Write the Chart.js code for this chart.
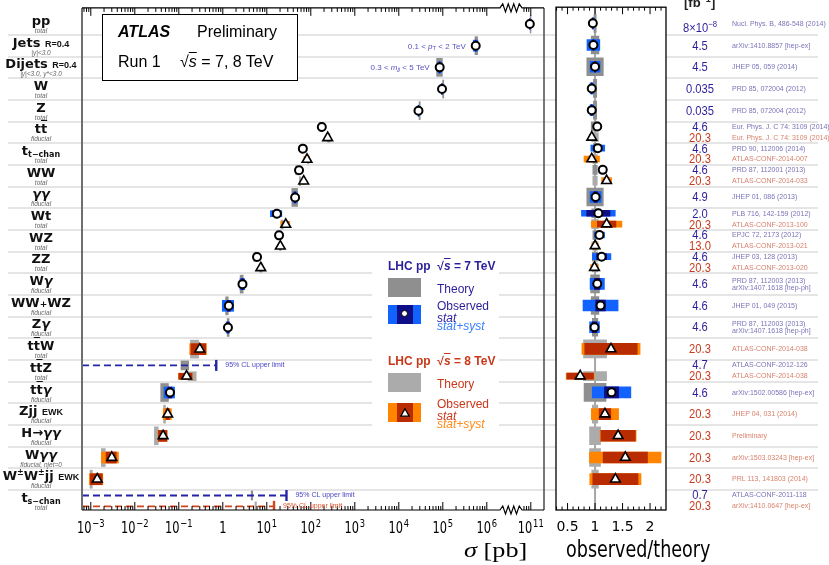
<!DOCTYPE html>
<html><head><meta charset="utf-8">
<script src="https://cdn.jsdelivr.net/npm/chart.js@4.4.1/dist/chart.umd.min.js"></script>
<style>
html,body{margin:0;padding:0;background:#fff;}
body{width:829px;height:565px;position:relative;overflow:hidden;font-family:'Liberation Sans',Arial,sans-serif;}
canvas{position:absolute;left:0;top:0;}
#main{z-index:1}
#ratio{z-index:2}
#overlay{position:absolute;left:0;top:0;width:829px;height:565px;z-index:3;pointer-events:none}
.a{position:absolute;white-space:nowrap}
.pname{font-family:'DejaVu Sans',sans-serif;font-weight:bold;font-size:13px;line-height:14px;text-align:center;width:82px;left:0;color:#111}
.pname small{font-family:'Liberation Sans',sans-serif;font-size:9px}
.pname .pl{font-size:9px}
.pname sub{font-size:8px;vertical-align:-2px;line-height:0}
.pname sup{font-size:8px;vertical-align:5px;line-height:0}
.ov{text-decoration:overline}
.psub{font-size:6.5px;line-height:8px;font-style:italic;color:#666;text-align:center;width:82px;left:0}
.lumi{font-size:13px;line-height:14px;width:80px;left:660px;text-align:center;transform:scaleX(0.86);transform-origin:50% 50%}
.ref{font-size:7px;line-height:8px;left:732px}
.leg{font-size:12px;line-height:14px}
</style></head>
<body>
<canvas id="main" width="829" height="565"></canvas>
<canvas id="ratio" width="829" height="565"></canvas>
<div id="overlay"></div>
<script>
const N = null;
// ---- categories (rows, top to bottom) ----
const processNames = ['pp','Jets <small>R=0.4</small>','Dijets <small>R=0.4</small>','W','Z',
  't<span class="ov">t</span>','t<sub>t−chan</sub>','WW','<i>γγ</i>','Wt','WZ','ZZ','W<i>γ</i>','WW<span class="pl">+</span>WZ','Z<i>γ</i>',
  't<span class="ov">t</span>W','t<span class="ov">t</span>Z','t<span class="ov">t</span><i>γ</i>','Zjj <small>EWK</small>',
  'H→<i>γγ</i>','W<i>γγ</i>','W<sup>±</sup>W<sup>±</sup>jj <small>EWK</small>','t<sub>s−chan</sub>'];
const processSubs = ['total','|y|&lt;3.0','|y|&lt;3.0, y*&lt;3.0','total','total','fiducial','total','total','fiducial','total','total','total',
  'fiducial','fiducial','fiducial','total','total','fiducial','fiducial','fiducial','fiducial, njet=0','fiducial','total'];

// ---- 7 TeV: measured cross sections [pb], observed/theory, relative uncertainties ----
const sigma7   = [9.5e10, 5.6e5, 8.5e4, 9.6e4, 2.8e4, 178, 66, 54, 44, 17, 19, 6.0, 2.8, 1.37, 1.31, N, N, 0.063, N, N, N, N, N];
const ratio7   = [0.96, 0.97, 1.00, 0.94, 0.94, 1.04, 1.05, 1.14, 1.01, 1.06, 1.08, 1.12, 1.04, 1.10, 0.99, N, N, 1.30, N, N, N, N, N];
const statErr7 = [0.005, 0.01, 0.01, 0.005, 0.005, 0.02, 0.03, 0.03, 0.03, 0.20, 0.05, 0.08, 0.05, 0.08, 0.04, N, N, 0.10, N, N, N, N, N];
const totErr7  = [0.015, 0.12, 0.09, 0.03, 0.03, 0.05, 0.12, 0.06, 0.10, 0.29, 0.085, 0.15, 0.125, 0.29, 0.09, N, N, 0.27, N, N, N, N, N];
const theoErr7 = [0.02, 0.07, 0.15, 0.03, 0.03, 0.07, 0.03, 0.04, 0.15, 0.06, 0.04, 0.05, 0.08, 0.07, 0.05, N, 0.20, 0.20, N, N, N, N, 0.04];
const limit7       = [N,N,N,N,N,N,N,N,N,N,N,N,N,N,N,N, 0.71, N,N,N,N,N, 28];
const limitTheory7 = [N,N,N,N,N,N,N,N,N,N,N,N,N,N,N,N, 0.14, N,N,N,N,N, 4.6];

// ---- 8 TeV ----
const sigma8   = [N,N,N,N,N, 242, 82, 69, N, 27, 20.3, 7.3, N,N,N, 0.30, 0.15, N, 0.056, 0.044, 0.0030, 0.0014, N];
const ratio8   = [N,N,N,N,N, 0.94, 0.94, 1.21, N, 1.21, 1.00, 0.99, N,N,N, 1.29, 0.73, N, 1.18, 1.42, 1.55, 1.37, N];
const statErr8 = [N,N,N,N,N, 0.01, 0.05, 0.03, N, 0.14, 0.03, 0.04, N,N,N, 0.37, 0.33, N, 0.09, 0.22, 0.26, 0.30, N];
const totErr8  = [N,N,N,N,N, 0.04, 0.15, 0.075, N, 0.23, 0.06, 0.07, N,N,N, 0.41, 0.35, N, 0.21, 0.23, 0.42, 0.34, N];
const theoErr8 = [N,N,N,N,N, 0.06, 0.04, 0.04, N, 0.06, 0.04, 0.05, N,N,N, 0.21, 0.21, N, 0.05, 0.10, 0.10, 0.06, 0.04];
const limit8       = [N,N,N,N,N,N,N,N,N,N,N,N,N,N,N,N,N,N,N,N,N,N, 14.6];
const limitTheory8 = [N,N,N,N,N,N,N,N,N,N,N,N,N,N,N,N,N,N,N,N,N,N, 5.6];

// ---- luminosity [fb^-1] and references ----
const lumi7 = ['8×10<sup style="font-size:9px">−8</sup>','4.5','4.5','0.035','0.035','4.6','4.6','4.6','4.9','2.0','4.6','4.6','4.6','4.6','4.6',N,'4.7','4.6',N,N,N,N,'0.7'];
const lumi8 = [N,N,N,N,N,'20.3','20.3','20.3',N,'20.3','13.0','20.3',N,N,N,'20.3','20.3',N,'20.3','20.3','20.3','20.3','20.3'];
const ref7 = ['Nucl. Phys. B, 486-548 (2014)','arXiv:1410.8857 [hep-ex]','JHEP 05, 059 (2014)','PRD 85, 072004 (2012)','PRD 85, 072004 (2012)',
  'Eur. Phys. J. C 74: 3109 (2014)','PRD 90, 112006 (2014)','PRD 87, 112001 (2013)','JHEP 01, 086 (2013)','PLB 716, 142-159 (2012)',
  'EPJC 72, 2173 (2012)','JHEP 03, 128 (2013)','PRD 87, 112003 (2013)<br>arXiv:1407.1618 [hep-ph]','JHEP 01, 049 (2015)',
  'PRD 87, 112003 (2013)<br>arXiv:1407.1618 [hep-ph]',N,'ATLAS-CONF-2012-126','arXiv:1502.00586 [hep-ex]',N,N,N,N,'ATLAS-CONF-2011-118'];
const ref8 = [N,N,N,N,N,'Eur. Phys. J. C 74: 3109 (2014)','ATLAS-CONF-2014-007','ATLAS-CONF-2014-033',N,'ATLAS-CONF-2013-100',
  'ATLAS-CONF-2013-021','ATLAS-CONF-2013-020',N,N,N,'ATLAS-CONF-2014-038','ATLAS-CONF-2014-038',N,'JHEP 04, 031 (2014)','Preliminary',
  'arXiv:1503.03243 [hep-ex]','PRL 113, 141803 (2014)','arXiv:1410.0647 [hep-ex]'];

// ---- tick labels ----
const mainTickExponents = [-3,-2,-1,0,1,2,3,4,5,6,11];
const mainTickBases     = ['10','10','10','1','10','10','10','10','10','10','10'];
const mainTickSups      = ['−3','−2','−1','','1','2','3','4','5','6','11'];
const ratioTickValues = [0.5,1,1.5,2];
const ratioTickLabels = ['0.5','1','1.5','2'];

// ---- axis geometry ----
const X_MIN = -3.2, X_MAX = 7.3, BREAK_LO = 6.3, BREAK_HI = 6.8;
const Y_MIN = -0.743, Y_MAX = 22.42;
const R_MIN = 0.29, R_MAX = 2.29;

// log axis with a break between 10^6 and 10^10
function toU(v){ const l = Math.log10(v); return l > 6.5 ? l - 4 : l; }
function isDouble(i){ return (sigma7[i]!=null||limit7[i]!=null) && (sigma8[i]!=null||limit8[i]!=null); }
function rowY(i,e){ return isDouble(i) ? i + (e===7 ? -0.25 : 0.25) : i; }

const C7 = '#2b1e9c', C8 = '#c9381a';
const E = {
  7:{sigma:sigma7, ratio:ratio7, stat:statErr7, tot:totErr7, theo:theoErr7, limit:limit7, limTh:limitTheory7,
     cTheo:'#8f8f8f', cTot:'#1262ff', cStat:'#0e0e86', marker:'circle', r:4, bw:2, cLine:'#2424a8', cTxt:'#4a44c4'},
  8:{sigma:sigma8, ratio:ratio8, stat:statErr8, tot:totErr8, theo:theoErr8, limit:limit8, limTh:limitTheory8,
     cTheo:'#ababab', cTot:'#ff8400', cStat:'#b92c02', marker:'triangle', r:5.6, bw:1.6, cLine:'#d2441c', cTxt:'#d9552e'}
};

Chart.defaults.font.family = "'Liberation Sans', Arial, sans-serif";

function bandSets(panel){
  const sets = [];
  const thick = {theo:{s:18,d:9}, tot:{s:11,d:6}, stat:{s:11,d:6}};
  const ord = {theo:30, tot:20, stat:10};
  for (const e of [7,8]){
    const d = E[e];
    const g = {theo:{s:[],d:[]}, tot:{s:[],d:[]}, stat:{s:[],d:[]}};
    for (let i=0;i<processNames.length;i++){
      const k = isDouble(i) ? 'd' : 's';
      const y = rowY(i,e);
      if (d.sigma[i]!=null){
        const r = d.ratio[i], sg = d.sigma[i];
        if (panel==='main'){
          const th = sg/r;
          g.theo[k].push({y, x:[toU(th*(1-d.theo[i])), toU(th*(1+d.theo[i]))]});
          g.tot[k].push({y, x:[toU(sg*(1-d.tot[i])), toU(sg*(1+d.tot[i]))]});
          g.stat[k].push({y, x:[toU(sg*(1-d.stat[i])), toU(sg*(1+d.stat[i]))]});
        } else {
          g.theo[k].push({y, x:[1-d.theo[i], 1+d.theo[i]]});
          g.tot[k].push({y, x:[r*(1-d.tot[i]), r*(1+d.tot[i])]});
          g.stat[k].push({y, x:[r*(1-d.stat[i]), r*(1+d.stat[i])]});
        }
      } else if (d.limit[i]!=null && panel==='main'){
        const th = d.limTh[i];
        g.theo[k].push({y, x:[toU(th*(1-d.theo[i])), toU(th*(1+d.theo[i]))]});
      }
    }
    const col = {theo:d.cTheo, tot:d.cTot, stat:d.cStat};
    for (const kind of ['theo','tot','stat']) for (const k of ['s','d']){
      if (!g[kind][k].length) continue;
      sets.push({type:'bar', label:e+' '+kind+' '+k, data:g[kind][k], backgroundColor:col[kind],
        borderWidth:0, barThickness:thick[kind][k], stack:'all', order:ord[kind]});
    }
  }
  return sets;
}
function markerSets(panel){
  const sets = [];
  for (const e of [7,8]){
    const d = E[e]; const data = [];
    for (let i=0;i<processNames.length;i++){
      if (d.sigma[i]==null) continue;
      data.push({x: panel==='main' ? toU(d.sigma[i]) : d.ratio[i], y: rowY(i,e)});
    }
    sets.push({type:'scatter', label:e+' obs', data, pointStyle:d.marker, pointRadius:d.r, pointBorderWidth:d.bw,
      pointBorderColor:'#000', pointBackgroundColor:'#fff', order:0});
  }
  return sets;
}
function limitSets(){
  const sets = [];
  for (const e of [7,8]){
    const d = E[e];
    for (let i=0;i<processNames.length;i++){
      if (d.limit[i]==null) continue;
      const y = rowY(i,e);
      sets.push({type:'line', label:e+' limit', data:[{x:X_MIN, y}, {x:toU(d.limit[i]), y}], borderColor:d.cLine,
        borderWidth:1.8, borderDash:[7,4], pointRadius:[0,5.5], pointStyle:'line', pointRotation:90,
        pointBorderWidth:2.4, pointBorderColor:d.cLine, fill:false, order:5});
    }
  }
  return sets;
}

function drawParts(ctx, endX, y, parts){
  let w = 0;
  for (const p of parts){ ctx.font = p[1]; w += ctx.measureText(p[0]).width; }
  let x = endX - w;
  ctx.textAlign = 'left'; ctx.textBaseline = 'middle';
  for (const p of parts){ ctx.font = p[1]; ctx.fillText(p[0], x, y + (p[2]||0)); x += ctx.measureText(p[0]).width; }
}

const mainDecor = {
  id:'mainDecor',
  beforeDatasetsDraw(chart){
    const {ctx, scales:{y}} = chart;
    ctx.save(); ctx.strokeStyle = '#dcdcdc'; ctx.lineWidth = 1.6;
    for (let i=0;i<processNames.length-1;i++){
      const py = Math.round(y.getPixelForValue(i+0.5));
      ctx.beginPath(); ctx.moveTo(8,py); ctx.lineTo(818,py); ctx.stroke();
    }
    ctx.restore();
  },
  afterDraw(chart){
    const {ctx, chartArea:{left,right,top,bottom}, scales:{x,y}} = chart;
    ctx.save();
    ctx.strokeStyle = '#6e6e6e'; ctx.lineWidth = 2;
    ctx.beginPath(); ctx.moveTo(left,top); ctx.lineTo(left,bottom); ctx.stroke();
    ctx.strokeStyle = '#4a4a4a'; ctx.lineWidth = 1.5;
    ctx.beginPath(); ctx.moveTo(right,top); ctx.lineTo(right,bottom); ctx.stroke();
    const za = x.getPixelForValue(BREAK_LO), zb = x.getPixelForValue(BREAK_HI);
    ctx.strokeStyle = '#000'; ctx.lineWidth = 1.2;
    for (const py of [top,bottom]){
      ctx.beginPath(); ctx.moveTo(left,py); ctx.lineTo(za,py);
      const n = 8;
      for (let k=1;k<n;k++) ctx.lineTo(za+(zb-za)*k/n, py + (k%2 ? -4 : 4));
      ctx.lineTo(zb,py); ctx.lineTo(right,py); ctx.stroke();
    }
    // ticks
    const majors = mainTickExponents.map(e=>toU(Math.pow(10,e)));
    const minors = [];
    for (let n=-4;n<=6;n++) for (let k=2;k<=9;k++){ const u=n+Math.log10(k); if (u>X_MIN && u<BREAK_LO) minors.push(u); }
    for (let k=2;k<=9;k++){ const u=toU(k*1e10); if (u>BREAK_HI && u<X_MAX) minors.push(u); }
    ctx.lineWidth = 1;
    const tick = (u,len)=>{ const px = x.getPixelForValue(u);
      ctx.beginPath(); ctx.moveTo(px,bottom); ctx.lineTo(px,bottom-len); ctx.moveTo(px,top); ctx.lineTo(px,top+len); ctx.stroke(); };
    majors.forEach(u=>tick(u,8)); minors.forEach(u=>tick(u,4));
    // tick labels: 10^n with real superscripts, placed from the scale
    ctx.fillStyle = '#000'; ctx.textAlign = 'left'; ctx.textBaseline = 'alphabetic';
    const sx = 0.76, fb = "15px 'DejaVu Sans'", fe = "11px 'DejaVu Sans'";
    mainTickExponents.forEach((e,idx)=>{
      const px = x.getPixelForValue(toU(Math.pow(10,e)));
      ctx.font = fb; const wb = ctx.measureText(mainTickBases[idx]).width;
      ctx.font = fe; const we = mainTickSups[idx] ? ctx.measureText(mainTickSups[idx]).width + 1 : 0;
      const x0 = px - (wb+we)*sx/2;
      ctx.save(); ctx.translate(x0, bottom+23); ctx.scale(sx,1);
      ctx.font = fb; ctx.fillText(mainTickBases[idx], 0, 0);
      if (we){ ctx.font = fe; ctx.fillText(mainTickSups[idx], wb+1, -6); }
      ctx.restore();
    });
    // annotations
    ctx.fillStyle = '#5a52c2';
    drawParts(ctx, x.getPixelForValue(toU(sigma7[1]))-10, y.getPixelForValue(1)+1,
      [['0.1 < ','8px Liberation Sans'],['p','italic 8px Liberation Sans'],['T','6px Liberation Sans',2],[' < 2 TeV','8px Liberation Sans']]);
    drawParts(ctx, x.getPixelForValue(toU(sigma7[2]))-10, y.getPixelForValue(2),
      [['0.3 < ','8px Liberation Sans'],['m','italic 8px Liberation Sans'],['jj','italic 6px Liberation Sans',2],[' < 5 TeV','8px Liberation Sans']]);
    for (const e of [7,8]){
      const d = E[e];
      for (let i=0;i<processNames.length;i++){
        if (d.limit[i]==null) continue;
        ctx.fillStyle = d.cTxt; ctx.font = '7px Liberation Sans'; ctx.textAlign='left'; ctx.textBaseline='middle';
        ctx.fillText('95% CL upper limit', x.getPixelForValue(toU(d.limit[i]))+9, y.getPixelForValue(rowY(i,e)));
      }
    }
    ctx.restore();
  }
};

const ratioDecor = {
  id:'ratioDecor',
  beforeDraw(chart){
    const {ctx, chartArea:{left,right,top,bottom}} = chart;
    ctx.save(); ctx.fillStyle = '#fff'; ctx.fillRect(left,top,right-left,bottom-top); ctx.restore();
  },
  beforeDatasetsDraw(chart){
    const {ctx, chartArea:{top,bottom}, scales:{x}} = chart;
    const px = x.getPixelForValue(1);
    ctx.save(); ctx.strokeStyle = '#a6a6a6'; ctx.lineWidth = 2;
    ctx.beginPath(); ctx.moveTo(px,top); ctx.lineTo(px,bottom); ctx.stroke(); ctx.restore();
  },
  afterDraw(chart){
    const {ctx, chartArea:{left,right,top,bottom}, scales:{x}} = chart;
    ctx.save(); ctx.strokeStyle = '#000'; ctx.lineWidth = 1.3;
    ctx.strokeRect(left,top,right-left,bottom-top);
    ctx.lineWidth = 1;
    for (let k=Math.ceil(R_MIN*10);k<=Math.floor(R_MAX*10);k++){
      const v = k/10, px = x.getPixelForValue(v), len = (k%5===0) ? 7 : 3.5;
      ctx.beginPath(); ctx.moveTo(px,bottom); ctx.lineTo(px,bottom-len); ctx.moveTo(px,top); ctx.lineTo(px,top+len); ctx.stroke();
    }
    ctx.restore();
  }
};

const baseY = {type:'linear', min:Y_MIN, max:Y_MAX, reverse:true, display:false, offset:false};

const mainChart = new Chart(document.getElementById('main'), {
  type:'bar',
  data:{datasets:[...bandSets('main'), ...limitSets(), ...markerSets('main')]},
  options:{
    responsive:false, animation:false, indexAxis:'y',
    layout:{padding:{left:82,right:285,top:5,bottom:0}},
    plugins:{legend:{display:false}, tooltip:{enabled:false}},
    scales:{
      x:{type:'linear', min:X_MIN, max:X_MAX, stacked:false, offset:false,
         grid:{display:false, drawTicks:false, tickLength:0}, border:{display:false},
         afterBuildTicks:s=>{ s.ticks = mainTickExponents.map(e=>({value:toU(Math.pow(10,e))})); },
         ticks:{display:false, autoSkip:false},
         afterFit:s=>{ s.height = 55; }},
      y:baseY
    }
  },
  plugins:[mainDecor]
});

const ratioChart = new Chart(document.getElementById('ratio'), {
  type:'bar',
  data:{datasets:[...bandSets('ratio'), ...markerSets('ratio')]},
  options:{
    responsive:false, animation:false, indexAxis:'y',
    layout:{padding:{left:556,right:163,top:5,bottom:0}},
    plugins:{legend:{display:false}, tooltip:{enabled:false}},
    scales:{
      x:{type:'linear', min:R_MIN, max:R_MAX, stacked:false, offset:false,
         grid:{display:false, drawTicks:false, tickLength:0}, border:{display:false},
         afterBuildTicks:s=>{ s.ticks = ratioTickValues.map(v=>({value:v})); },
         ticks:{autoSkip:false, maxRotation:0, minRotation:0, padding:9, color:'#000',
                font:{family:"'DejaVu Sans', sans-serif", size:14}, callback:(v,idx)=>ratioTickLabels[idx]},
         afterFit:s=>{ s.height = 55; }},
      y:Object.assign({}, baseY)
    }
  },
  plugins:[ratioDecor]
});

// ---- text overlays ----
const ov = document.getElementById('overlay');
function add(html, cls, style){ const d = document.createElement('div'); d.className = 'a ' + (cls||''); d.innerHTML = html; Object.assign(d.style, style||{}); ov.appendChild(d); return d; }
const yS = mainChart.scales.y;
processNames.forEach((nm,i)=>{
  const c = yS.getPixelForValue(i);
  add(nm,'pname',{top:(c-10)+'px'});
  add(processSubs[i],'psub',{top:(c+3)+'px'});
});
for (let i=0;i<processNames.length;i++){
  const dbl = lumi7[i]!=null && lumi8[i]!=null;
  const put = (lum, ref, off, col, rcol)=>{
    const c = yS.getPixelForValue(i+off);
    add(lum,'lumi',{top:(c-7)+'px', color:col});
    if (ref){
      if (ref.indexOf('<br>')>=0) add(ref,'ref',{top:(c-7)+'px', lineHeight:'7px', color:rcol});
      else add(ref,'ref',{top:(c-4)+'px', color:rcol});
    }
  };
  if (lumi7[i]!=null) put(lumi7[i], ref7[i], dbl ? -0.25 : 0, C7, '#7a74b8');
  if (lumi8[i]!=null) put(lumi8[i], ref8[i], dbl ? 0.25 : 0, C8, '#d9806b');
}
add('[fb<sup style="font-size:9px">−1</sup>]','',{left:'684px', top:'-6px', fontSize:'13px', fontWeight:'bold', color:'#222'});
add('Reference','',{left:'754px', top:'-10px', fontSize:'11px', color:'#666'});
add('<i>σ</i> [pb]','',{left:'464px', top:'538px', fontFamily:"'Liberation Serif', serif", fontSize:'21px', transform:'scaleX(1.25)', transformOrigin:'0 50%'});
add('observed/theory','',{left:'566px', top:'536px', fontFamily:"'DejaVu Sans', sans-serif", fontSize:'22.5px', transform:'scaleX(0.78)', transformOrigin:'0 50%'});

// ATLAS box
add('','',{left:'102px', top:'14px', width:'196px', height:'67px', border:'1.5px solid #000', background:'#fff', boxSizing:'border-box'});
add('<b><i>ATLAS</i></b>','',{left:'118px', top:'23px', fontSize:'16px'});
add('Preliminary','',{left:'197px', top:'23px', fontSize:'16px'});
add('Run 1','',{left:'118px', top:'53px', fontSize:'16px'});
add('√<span class="ov"><i>s</i></span> = 7, 8 TeV','',{left:'180px', top:'53px', fontSize:'16px'});

// legend
add('','',{left:'372px', top:'256px', width:'127px', height:'184px', background:'#fff'});
function legendBlock(e, y0, title){
  const d = E[e], col = e===7 ? C7 : C8, light = e===7 ? '#3a80ff' : '#ff8c1a';
  add(title,'leg',{left:'388px', top:(y0)+'px', fontWeight:'bold', color:col});
  add('','',{left:'388px', top:(y0+19)+'px', width:'33px', height:'19px', background:d.cTheo});
  add('Theory','leg',{left:'437px', top:(y0+23)+'px', color:col});
  const oy = y0 + (e===7 ? 46 : 49);
  add('','',{left:'388px', top:oy+'px', width:'33px', height:'19px', background:d.cTot});
  add('','',{left:'397px', top:oy+'px', width:'16px', height:'19px', background:d.cStat});
  if (e===7) add('','',{left:'401px', top:(oy+5)+'px', width:'5px', height:'5px', border:'1.5px solid #000', borderRadius:'50%', background:'#fff'});
  else add('<svg width="10" height="9"><polygon points="5,0.8 9.2,8.2 0.8,8.2" fill="#fff" stroke="#000" stroke-width="1.3"/></svg>','',{left:'400px', top:(oy+5)+'px', lineHeight:'0'});
  add('Observed','leg',{left:'437px', top:(oy-6)+'px', color:col});
  add('<i>stat</i>','leg',{left:'437px', top:(oy+6)+'px', color:col});
  add('<i>stat+syst</i>','leg',{left:'437px', top:(oy+14)+'px', color:light});
}
legendBlock(7, 259, 'LHC pp&nbsp; √<span class="ov"><i>s</i></span> = 7 TeV');
legendBlock(8, 354, 'LHC pp&nbsp; √<span class="ov"><i>s</i></span> = 8 TeV');
</script>
</body></html>
